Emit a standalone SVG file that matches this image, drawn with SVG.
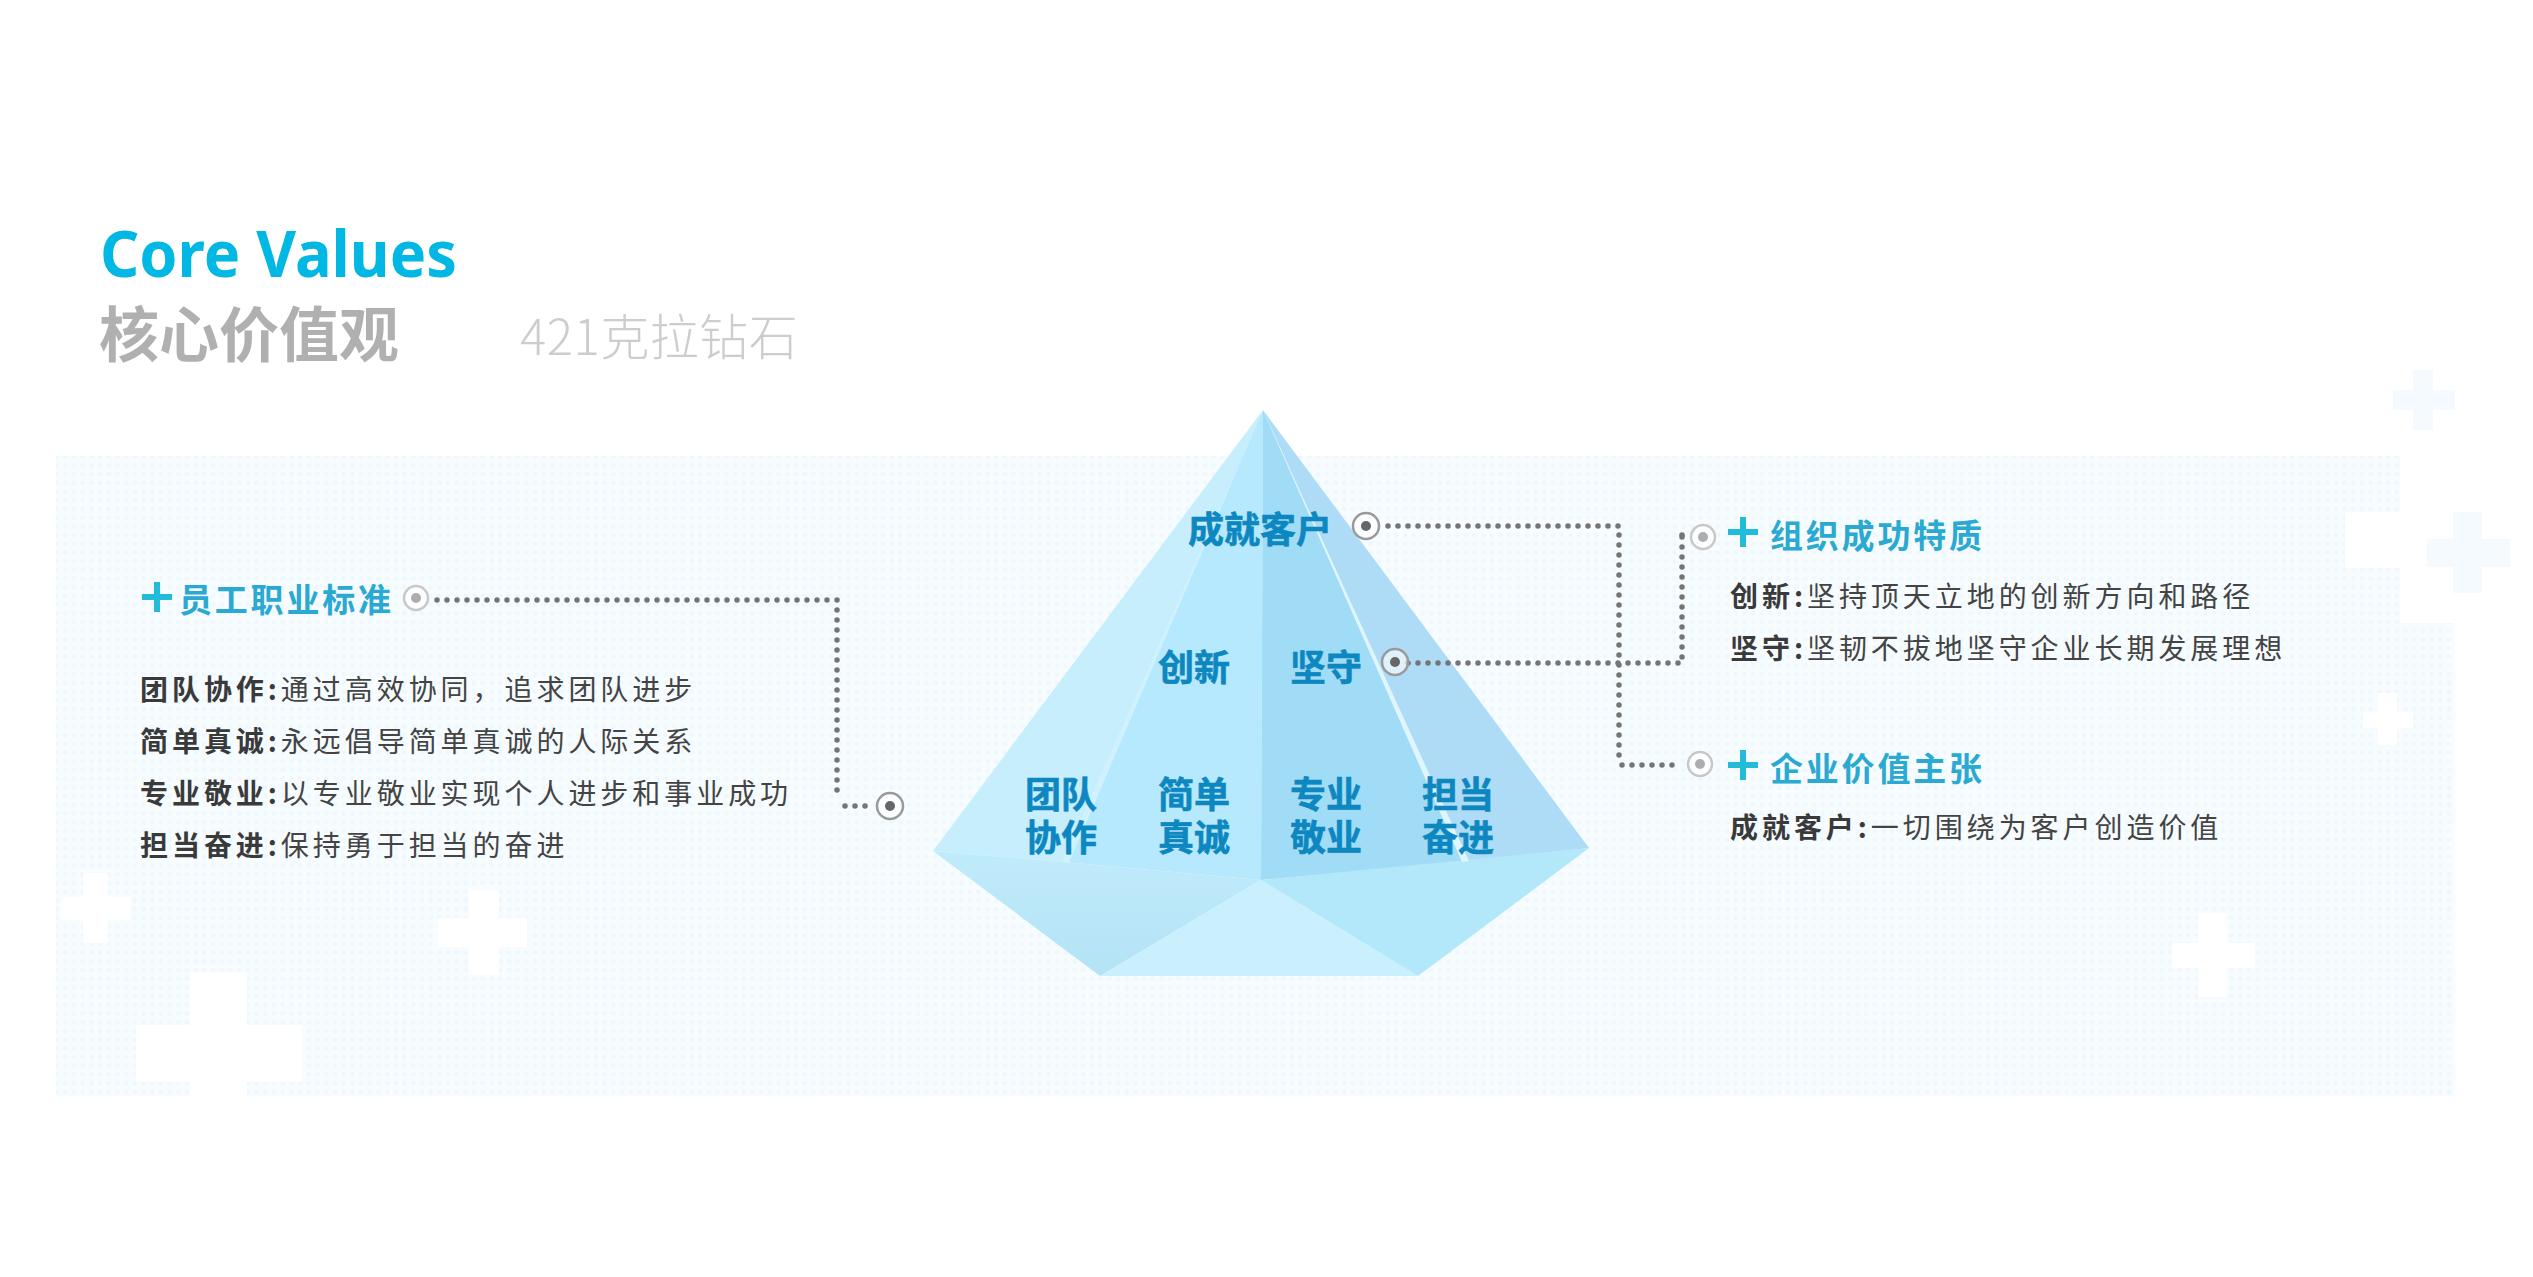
<svg xmlns="http://www.w3.org/2000/svg" width="2533" height="1277" viewBox="0 0 2533 1277">
<style>
.cjk{font-family:"Noto Sans CJK SC","Noto Sans",sans-serif}
.h{font-size:33px;font-weight:700;fill:#2aa9d2;letter-spacing:2.8px}
.b{font-size:28px;fill:#444;letter-spacing:3.95px;font-weight:400}
.b tspan{font-weight:700;fill:#3a3a3a}
.p{font-size:36px;font-weight:700;fill:#0d87bf;stroke:#0d87bf;stroke-width:.6}
.plus{fill:none;stroke:#22bcd8;stroke-width:6}
.dots{fill:none;stroke:#757575;stroke-width:5.5;stroke-linecap:round;stroke-dasharray:0 10}
.ring{fill:#fff;fill-opacity:.6;stroke:#9a9a9a;stroke-width:2.5}
.ringl{fill:#fff;fill-opacity:.6;stroke:#c8c8c8;stroke-width:2.5}
.cd{fill:#666}.cl{fill:#adadad}
.wc{fill:#fff}.bc{fill:#f5fafe}
</style>
<defs>
<pattern id="grid" width="8.7" height="8.7" patternUnits="userSpaceOnUse">
<rect width="8.7" height="8.7" fill="#f7fcff"/>
<circle cx="4.35" cy="4.35" r="2.4" fill="#eff8fe"/>
</pattern>
<linearGradient id="bl" x1="0" y1="0" x2="0" y2="1">
<stop offset="0" stop-color="#c0ebfb"/><stop offset="1" stop-color="#b4e3f6"/>
</linearGradient>
</defs>
<rect width="2533" height="1277" fill="#fff"/>
<g id="background">
<path d="M56 456H2400V623H2455V1096H56Z" fill="url(#grid)"/>
<path class="wc" d="M2345 512H2400V568H2345Z"/>
<path class="wc" d="M83 873H108V897H131V920H108V943H83V920H61V897H83Z"/>
<path class="wc" d="M469 890H499V918H527V947H499V975H469V947H438V918H469Z"/>
<path class="wc" d="M190 972H247V1025H302V1082H247V1097H190V1082H136V1025H190Z"/>
<path class="wc" d="M2198 913H2227V943H2255V968H2227V997H2198V968H2172V943H2198Z"/>
<path class="wc" d="M2378 693H2397V712H2413V728H2397V745H2378V728H2363V712H2378Z"/>
<path class="bc" d="M2413 370H2433V390H2455V410H2433V430H2413V410H2393V390H2413Z"/>
<path class="bc" d="M2453 512H2482V539H2510V567H2482V593H2453V567H2427V539H2453Z"/>
</g>
<g id="diamond">
<polygon points="1263,410 933,851 1063,862" fill="#c6eefd"/>
<polygon points="1263,410 1063,862 1261,880" fill="#b6e9fe"/>
<polygon points="1263,410 1261,880 1465,862" fill="#a1dcf7"/>
<polygon points="1263,410 1465,862 1589,848" fill="#aedcf6"/>
<polygon points="933,851 1063,862 1261,880 1100,976" fill="url(#bl)"/>
<polygon points="1261,880 1100,976 1418,976" fill="#caf0fe"/>
<polygon points="1261,880 1418,976 1589,848" fill="#b2e8fa"/>
<polygon points="1263,410 1462,862 1469,861" fill="#dff6ff"/>
<polygon points="1250,440 1062,862 1069,863" fill="#cff2fe"/>
</g>
<g id="connectors">
<path class="dots" d="M437 600H837V800"/>
<path class="dots" d="M845 806H872"/>
<path class="dots" d="M1388 526H1619V757"/>
<path class="dots" d="M1622 765H1676"/>
<path class="dots" d="M1408 663H1682V535"/>
<path class="dots" d="M1682 535H1690"/>
</g>
<g id="title">
<text x="100" y="277" font-family="'Noto Sans','Open Sans',sans-serif" font-size="64" font-weight="700" fill="#00b8e3" textLength="357" lengthAdjust="spacingAndGlyphs">Core Values</text>
<text class="cjk" x="99" y="357" font-size="60" font-weight="700" fill="#b0b0b0">核心价值观</text>
<text class="cjk" x="520" y="355" font-size="49" font-weight="300" fill="#cdcdcd" letter-spacing=".5">421克拉钻石</text>
</g>
<g id="node-standard">
<path class="plus" d="M142 597H172M157 582V612"/>
<text class="cjk h" x="179" y="612">员工职业标准</text>
<circle class="ringl" cx="416" cy="598" r="12"/><circle class="cl" cx="416" cy="598" r="5"/>
<text class="cjk b" x="140" y="700"><tspan>团队协作:</tspan>通过高效协同，追求团队进步</text>
<text class="cjk b" x="140" y="752"><tspan>简单真诚:</tspan>永远倡导简单真诚的人际关系</text>
<text class="cjk b" x="140" y="804"><tspan>专业敬业:</tspan>以专业敬业实现个人进步和事业成功</text>
<text class="cjk b" x="140" y="856"><tspan>担当奋进:</tspan>保持勇于担当的奋进</text>
<circle class="ring" cx="890" cy="806" r="13"/><circle class="cd" cx="890" cy="806" r="5"/>
</g>
<g id="node-diamond-labels" class="cjk">
<text class="p" x="1188" y="543">成就客户</text>
<text class="p" x="1158" y="681">创新</text>
<text class="p" x="1290" y="681">坚守</text>
<text class="p" x="1025" y="808">团队</text><text class="p" x="1025" y="851">协作</text>
<text class="p" x="1158" y="808">简单</text><text class="p" x="1158" y="851">真诚</text>
<text class="p" x="1290" y="808">专业</text><text class="p" x="1290" y="851">敬业</text>
<text class="p" x="1422" y="808">担当</text><text class="p" x="1422" y="851">奋进</text>
<circle class="ring" cx="1366" cy="526" r="13"/><circle class="cd" cx="1366" cy="526" r="5"/>
<circle class="ring" cx="1395" cy="662" r="13"/><circle class="cd" cx="1395" cy="662" r="5"/>
</g>
<g id="node-org">
<path class="plus" d="M1728 532H1758M1743 517V547"/>
<text class="cjk h" x="1770" y="548">组织成功特质</text>
<circle class="ringl" cx="1703" cy="537" r="12"/><circle class="cl" cx="1703" cy="537" r="5"/>
<text class="cjk b" x="1730" y="607"><tspan>创新:</tspan>坚持顶天立地的创新方向和路径</text>
<text class="cjk b" x="1730" y="659"><tspan>坚守:</tspan>坚韧不拔地坚守企业长期发展理想</text>
</g>
<g id="node-enterprise">
<path class="plus" d="M1728 765H1758M1743 750V780"/>
<text class="cjk h" x="1770" y="781">企业价值主张</text>
<circle class="ringl" cx="1700" cy="764" r="12"/><circle class="cl" cx="1700" cy="764" r="5"/>
<text class="cjk b" x="1730" y="838"><tspan>成就客户:</tspan>一切围绕为客户创造价值</text>
</g>
</svg>
